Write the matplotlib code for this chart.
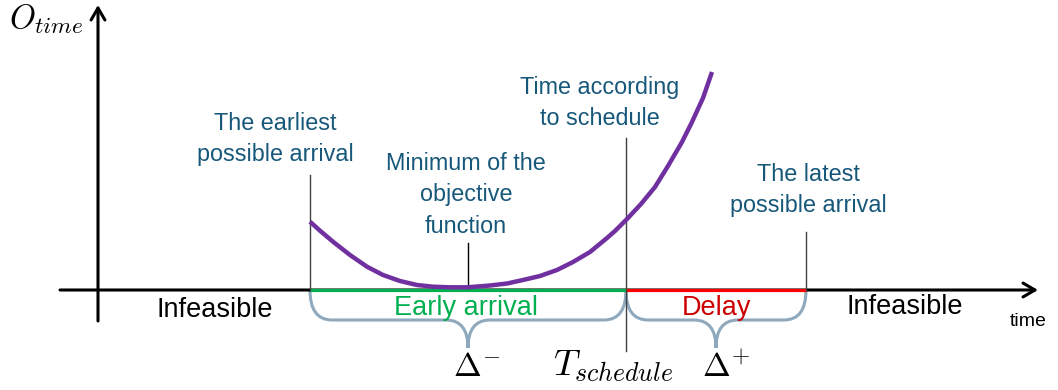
import numpy as np
import matplotlib.pyplot as plt
from matplotlib.path import Path
from matplotlib.patches import PathPatch

plt.rcParams['font.family'] = ['Liberation Sans', 'DejaVu Sans']
plt.rcParams['mathtext.fontset'] = 'cm'

# key points on the time axis (x) and the objective curve
t_earliest = 310
t_min = 468
t_schedule = 626
t_latest = 806

curve_t = [310, 320, 333, 350, 367, 383, 400, 417, 433, 450, 467,
           490, 507, 523, 540, 557, 573, 590, 607, 615, 627, 641,
           655, 668, 682, 692, 703, 712]
curve_o = [68.3, 59.3, 48.3, 35, 23.3, 15, 9, 5, 3.3, 2.7, 2.7,
           4.5, 6.5, 10, 14, 20, 28, 38, 52, 59, 71, 86,
           103, 124, 148, 168, 192, 218]

# marker line tops (height above the time axis)
marker_x = [t_earliest, t_min, t_schedule, t_latest]
marker_top = [115, 47, 152, 58]
marker_bottom = [0, 2, -61, 0]

label_text = ["The earliest\npossible arrival",
              "Minimum of the\nobjective\nfunction",
              "Time according\nto schedule",
              "The latest\npossible arrival"]
label_x = [275, 466, 600, 808]
label_y = [151, 95, 187, 100]

teal = "#17587a"
green = "#00b050"
red = "#ff0000"
brace_col = "#8ea9bd"

fig = plt.figure(figsize=(10.58, 3.9), dpi=100)
ax = fig.add_axes([0, 0, 1, 1])
ax.set_xlim(0, 1058)
ax.set_ylim(-100, 290)
ax.axis("off")

# axes arrows
arr = dict(arrowstyle="->,head_length=0.43,head_width=0.25", lw=2.2,
           color="black", mutation_scale=20, shrinkA=0, shrinkB=0)
ax.annotate("", xy=(1038, 0), xytext=(60, 0), arrowprops=arr)
ax.annotate("", xy=(98, 285), xytext=(98, -31), arrowprops=arr)

# feasible window segments
ax.plot([t_earliest, t_schedule], [0, 0], color=green, lw=2.3,
        solid_capstyle="butt", zorder=3)
ax.plot([t_schedule, t_latest], [0, 0], color=red, lw=2.3,
        solid_capstyle="butt", zorder=3)

# marker lines
for x, top, bot in zip(marker_x, marker_top, marker_bottom):
    c = "black" if x == t_min else "#404040"
    ax.plot([x, x], [bot, top], color=c, lw=1.0, zorder=4)

# objective curve
ax.plot(curve_t, curve_o, color="#7030a0", lw=3.2, zorder=5,
        solid_capstyle="butt", solid_joinstyle="round")


def brace(a, b, c):
    r = 22
    verts = [(a, 0), (a, -30), (a + r, -30),
             (c - r, -30), (c, -30), (c, -58),
             (c, -30), (c + r, -30),
             (b - r, -30), (b, -30), (b, 0)]
    codes = [Path.MOVETO, Path.CURVE3, Path.CURVE3,
             Path.LINETO, Path.CURVE3, Path.CURVE3,
             Path.CURVE3, Path.CURVE3,
             Path.LINETO, Path.CURVE3, Path.CURVE3]
    ax.add_patch(PathPatch(Path(verts, codes), fill=False,
                           edgecolor=brace_col, lw=2.2, zorder=2))


brace(t_earliest, t_schedule, (t_earliest + t_schedule) / 2)
brace(t_schedule, t_latest, (t_schedule + t_latest) / 2)

# annotations
for s, x, y in zip(label_text, label_x, label_y):
    ax.text(x, y, s, ha="center", va="center", fontsize=16.8,
            color=teal, linespacing=1.45)

ax.text(215, -20, "Infeasible", ha="center", va="center", fontsize=19.5)
ax.text(905, -17, "Infeasible", ha="center", va="center", fontsize=19.5)
ax.text(466, -18, "Early arrival", ha="center", va="center",
        fontsize=19.5, color=green)
ax.text(717, -18, "Delay", ha="center", va="center", fontsize=19.5,
        color="#cc0000")
ax.text(1028, -32, "time", ha="center", va="center", fontsize=14)

ax.text(46, 271, r"$O_{time}$", ha="center", va="center", fontsize=24)
ax.text(477, -78, r"$\Delta^{-}$", ha="center", va="center", fontsize=24)
ax.text(613, -76, r"$T_{schedule}$", ha="center", va="center", fontsize=26.5)
ax.text(726, -78, r"$\Delta^{+}$", ha="center", va="center", fontsize=24)

fig.savefig("out.png", dpi=100)
